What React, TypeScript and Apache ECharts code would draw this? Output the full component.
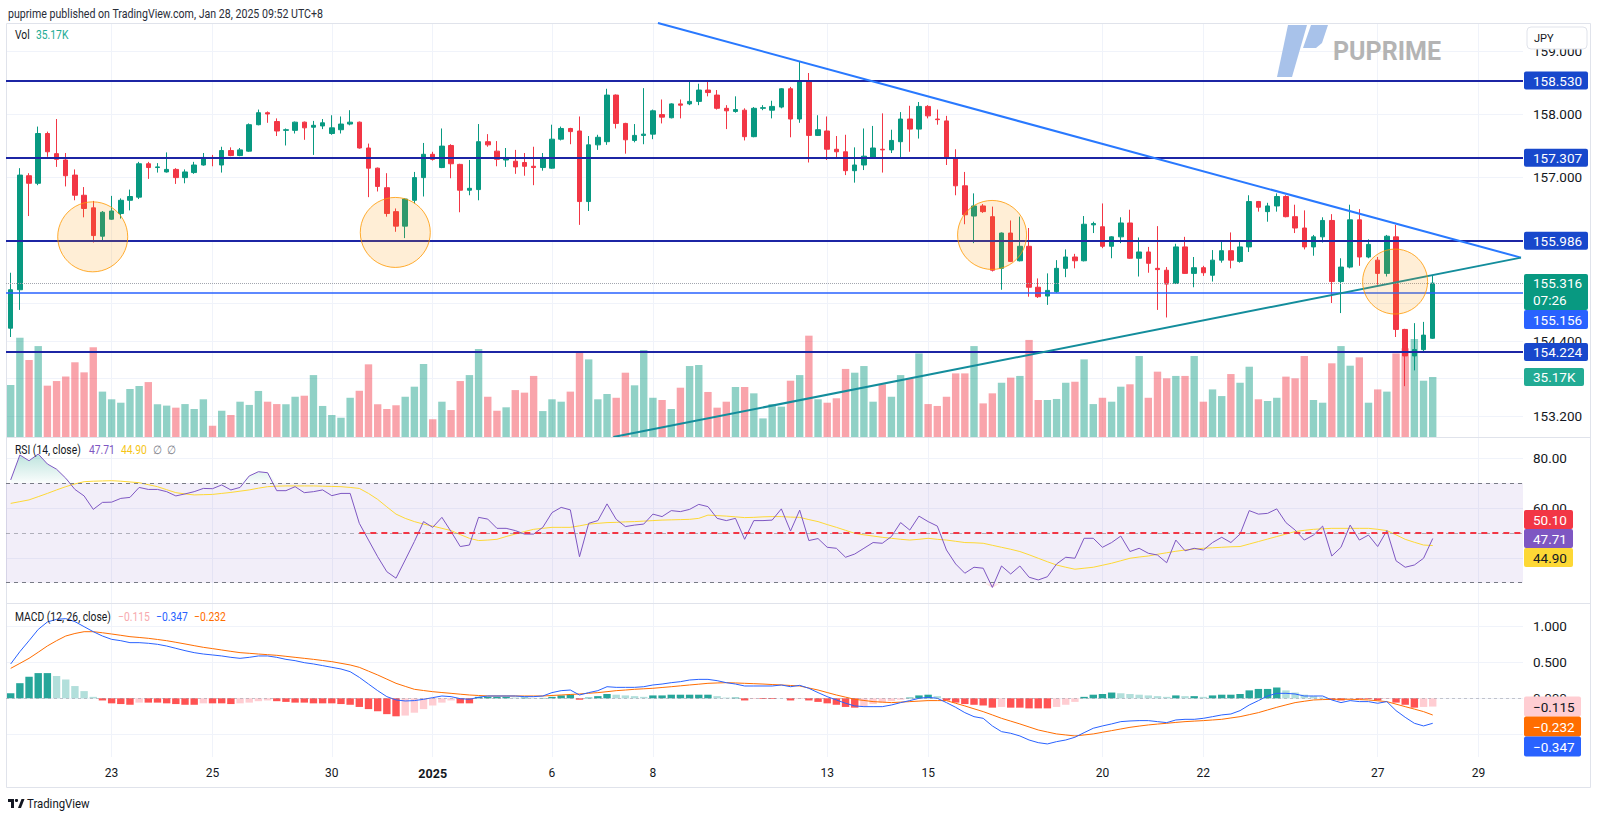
import React, { useEffect, useRef } from 'react';
import * as echarts from 'echarts';

// ---------- data (USDJPY 4h) ----------
const opens = [
  154.60,155.21,157.02,156.90,157.69,157.37,157.27,157.03,156.71,156.51,
  156.06,156.33,156.42,156.63,156.68,157.21,157.15,157.08,157.12,156.99,
  157.07,157.19,157.31,157.19,157.42,157.34,157.41,157.83,158.02,157.88,
  157.74,157.74,157.87,157.79,157.81,157.69,157.75,157.84,157.87,157.46,
  157.14,156.83,156.45,156.22,156.63,156.99,157.36,157.15,157.50,157.20,
  156.79,156.80,157.56,157.41,157.27,157.25,157.23,157.17,157.15,157.14,
  157.60,157.77,157.73,156.61,157.51,157.56,158.30,157.85,157.58,157.66,
  157.68,157.99,157.94,158.16,158.16,158.20,158.38,158.30,158.09,158.04,
  158.06,157.64,158.09,158.06,158.11,158.40,157.92,158.52,157.66,157.73,
  157.44,157.40,157.10,157.19,157.31,157.44,157.43,157.56,157.92,157.76,
  158.12,157.92,157.89,157.30,156.86,156.38,156.54,156.37,155.55,156.11,
  155.67,155.90,155.25,155.11,155.18,155.55,155.73,155.67,156.24,156.21,
  155.90,156.05,156.27,155.71,155.81,155.55,155.52,155.31,155.89,155.47,
  155.56,155.44,155.68,155.83,155.66,155.89,156.61,156.45,156.54,156.69,
  156.37,156.19,155.89,156.05,156.31,155.34,155.57,156.32,155.73,155.68,
  155.47,156.05,154.58,154.16,154.26,154.44,
];
const highs = [
  155.48,157.14,157.06,157.80,157.72,157.92,157.38,157.12,156.84,156.62,
  156.46,156.70,156.66,156.80,157.24,157.24,157.22,157.39,157.14,157.12,
  157.24,157.38,157.35,157.48,157.47,157.46,157.85,158.07,158.04,157.93,
  157.77,157.88,157.88,157.89,157.92,157.98,157.96,158.06,157.88,157.53,
  157.15,157.06,156.50,156.66,157.08,157.54,157.40,157.77,157.52,157.21,
  157.27,157.84,157.68,157.57,157.46,157.43,157.38,157.48,157.38,157.83,
  157.80,157.78,157.96,157.65,157.67,158.40,158.31,157.86,157.84,158.41,
  158.07,158.23,158.17,158.23,158.51,158.48,158.51,158.38,158.14,158.28,
  158.09,158.11,158.14,158.21,158.41,158.43,158.83,158.65,157.98,157.96,
  157.65,157.67,157.47,157.77,157.81,158.01,157.75,158.03,158.13,158.19,
  158.14,158.07,157.97,157.44,157.08,156.74,156.57,156.53,156.12,156.31,
  156.37,156.19,155.39,155.47,155.68,155.85,155.78,156.38,156.29,156.58,
  156.06,156.36,156.48,156.04,155.89,156.22,155.57,155.94,156.05,155.73,
  155.59,155.84,155.97,156.12,155.97,156.71,156.62,156.59,156.74,156.71,
  156.56,156.47,156.08,156.36,156.41,155.71,156.56,156.49,156.01,155.73,
  156.08,156.24,154.59,154.68,154.70,155.44,
];
const lows = [
  154.46,154.89,156.38,156.87,157.32,157.16,156.85,156.63,156.36,155.96,
  155.98,156.32,156.34,156.47,156.65,156.97,157.07,157.07,156.89,156.90,
  157.05,157.18,157.17,157.07,157.33,157.33,157.40,157.82,157.86,157.65,
  157.50,157.69,157.59,157.35,157.76,157.67,157.69,157.82,157.45,156.68,
  156.77,156.37,156.13,156.03,156.58,156.69,157.26,157.14,156.98,156.44,
  156.71,156.63,157.48,157.17,157.16,157.05,157.02,156.87,157.10,157.13,
  157.58,157.52,156.24,156.46,157.43,157.51,157.77,157.37,157.55,157.52,
  157.60,157.85,157.93,157.93,158.14,158.14,158.28,158.07,157.76,158.02,
  157.58,157.63,158.06,157.93,158.09,157.63,157.86,157.23,157.65,157.27,
  157.30,157.03,156.91,157.11,157.31,157.07,157.38,157.31,157.40,157.61,
  157.93,157.83,157.19,156.71,156.25,155.95,156.43,155.50,155.21,155.65,
  155.66,155.10,155.08,154.97,155.16,155.41,155.55,155.66,156.11,155.87,
  155.71,155.95,155.70,155.42,155.48,154.89,154.77,155.30,155.46,155.25,
  155.43,155.34,155.64,155.55,155.64,155.81,156.45,156.29,156.45,156.36,
  156.11,155.85,155.75,155.96,155.00,154.84,155.55,155.59,155.71,155.29,
  155.42,154.46,153.68,153.93,154.21,154.43,
];
const closes = [
  155.21,157.03,156.90,157.69,157.40,157.28,157.02,156.71,156.50,156.07,
  156.44,156.46,156.63,156.69,157.21,157.15,157.16,157.12,156.99,157.08,
  157.19,157.31,157.30,157.42,157.34,157.43,157.83,158.02,158.00,157.73,
  157.75,157.87,157.78,157.82,157.86,157.78,157.84,157.87,157.46,157.14,
  156.85,156.42,156.22,156.65,156.99,157.36,157.28,157.49,157.21,156.79,
  156.82,157.56,157.51,157.28,157.31,157.16,157.17,157.15,157.31,157.60,
  157.77,157.72,156.61,157.51,157.63,158.30,157.85,157.59,157.66,157.68,
  158.05,157.95,158.16,158.14,158.20,158.38,158.34,158.09,158.05,158.07,
  157.64,158.09,158.10,158.12,158.40,157.92,158.52,157.66,157.75,157.44,
  157.40,157.10,157.19,157.33,157.46,157.43,157.58,157.92,157.76,158.12,
  157.97,157.91,157.31,156.86,156.40,156.54,156.45,155.52,156.11,155.66,
  155.90,155.25,155.10,155.20,155.55,155.73,155.67,156.25,156.26,155.90,
  156.05,156.27,155.71,155.81,155.63,155.53,155.30,155.89,155.47,155.56,
  155.48,155.68,155.83,155.68,155.89,156.61,156.52,156.54,156.69,156.37,
  156.19,155.89,156.05,156.31,155.34,155.57,156.32,155.73,155.93,155.47,
  156.06,154.58,154.16,154.26,154.49,155.316,
];
// volume in thousands
const volumes = [
  30.5,58.2,45.1,53.3,30.1,32.8,35.4,43.8,37.9,52.6,
  26.6,22.1,20.1,28.1,29.9,32.2,19.2,18.4,17.2,19.3,
  16.4,22.1,6.6,15.4,12.9,20.7,18.8,27.0,20.7,19.3,
  19.2,23.6,24.2,36.3,18.2,12.9,11.3,23.0,27.1,42.6,
  19.2,16.4,18.6,23.6,29.5,42.8,10.4,20.7,15.8,32.8,
  36.3,51.6,23.6,15.4,17.4,27.5,26.0,35.8,15.2,22.1,
  20.7,26.6,50.4,45.5,22.1,25.2,23.0,37.7,30.3,51.0,
  23.0,21.7,16.4,28.9,41.6,42.2,26.4,17.2,20.7,29.3,
  29.3,25.6,10.9,19.3,17.8,33.0,36.3,59.4,22.1,20.1,
  22.7,39.9,37.7,41.6,20.7,30.9,23.6,36.3,34.4,49.0,
  19.3,18.2,23.6,37.3,37.3,53.3,19.7,25.6,31.8,34.8,
  35.8,56.9,21.7,21.7,22.3,31.8,32.4,45.5,19.3,23.0,
  20.7,29.5,30.9,47.5,23.0,38.3,34.4,35.8,35.8,47.5,
  20.7,27.9,24.0,36.9,31.8,41.2,22.1,21.1,23.0,35.4,
  34.4,47.5,21.7,20.1,43.2,53.3,41.8,46.7,20.1,27.9,
  26.6,49.0,52.0,57.4,33.0,35.17,
];
const rsi = [
  71.2,81.2,78.9,81.6,77.6,75.5,71.9,67.4,64.8,59.4,
  62.2,62.3,63.8,64.2,68.2,67.4,67.4,66.5,64.8,65.6,
  66.5,67.8,67.7,69.2,67.2,68.2,72.8,74.5,74.1,66.9,
  66.9,68.5,66.1,66.5,67.2,64.9,65.8,65.8,53.8,47.1,
  40.4,34.4,31.8,39.1,46.5,54.5,52.2,56.2,50.5,44.5,
  45.1,56.2,55.5,51.8,51.8,50.9,49.5,49.5,52.2,58.1,
  60.2,59.2,40.4,53.8,54.9,61.6,55.4,52.5,53.1,53.5,
  57.5,56.5,58.9,58.5,59.4,61.4,60.5,55.8,54.9,55.8,
  47.4,54.9,54.9,55.1,59.6,50.7,59.1,46.9,47.7,44.2,
  43.8,40.2,41.5,43.8,46.1,45.8,48.5,54.1,51.1,56.7,
  54.5,52.7,43.1,37.5,33.8,36.2,35.8,28.1,36.7,33.5,
  36.7,32.2,31.1,32.4,37.5,40.2,39.8,47.8,47.8,44.2,
  46.1,48.7,42.5,43.8,41.8,41.1,38.0,47.1,42.8,43.8,
  43.1,46.1,48.2,46.1,49.5,58.9,57.5,57.8,59.6,54.1,
  51.1,47.1,49.1,52.7,40.7,44.2,53.1,47.1,49.1,44.5,
  50.9,38.8,36.2,37.1,39.8,47.71,
];
const rsiMA = [
  61.8,62.5,63.2,64.5,65.8,67.2,68.5,69.6,70.5,70.7,
  70.8,70.9,70.7,70.4,70.1,69.3,68.5,67.3,66.1,65.6,
  65.2,65.3,65.4,65.8,66.2,66.7,67.2,67.9,68.5,68.7,
  68.8,68.8,68.8,68.8,68.7,68.6,68.5,68.2,67.8,65.8,
  63.4,60.4,57.5,55.8,54.5,53.5,52.7,51.8,50.9,49.3,
  47.8,46.9,47.1,47.4,48.5,49.5,50.5,51.4,51.8,52.2,
  52.2,52.2,52.8,53.5,53.8,54.1,54.2,54.4,54.5,54.7,
  54.9,55.1,55.2,55.3,55.4,55.8,57.1,56.9,56.7,56.4,
  56.1,56.2,56.4,56.5,56.5,56.3,56.2,55.3,54.5,53.3,
  52.2,51.0,49.8,49.2,48.7,48.2,47.8,47.4,47.1,47.4,
  47.8,47.4,47.1,46.6,46.1,46.0,45.8,45.0,44.2,43.4,
  42.5,41.2,39.8,38.4,37.1,36.2,35.4,35.8,36.2,37.0,
  37.8,38.8,39.8,40.3,40.7,41.4,42.0,42.6,43.1,43.5,
  43.8,44.0,44.2,44.4,44.5,45.5,46.5,47.5,48.5,49.5,
  50.5,51.0,51.4,51.6,51.8,51.8,51.8,51.8,51.8,51.4,
  50.9,49.2,47.4,46.2,45.1,44.90,
];
const macd = [
  0.477,0.648,0.800,0.957,1.060,1.097,1.106,1.065,0.995,0.925,
  0.865,0.819,0.800,0.773,0.773,0.764,0.750,0.726,0.694,0.662,
  0.634,0.615,0.602,0.588,0.569,0.555,0.569,0.588,0.588,0.569,
  0.541,0.523,0.495,0.477,0.454,0.430,0.407,0.370,0.291,0.198,
  0.106,0.023,-0.023,-0.037,-0.032,-0.014,0.009,0.032,0.023,-0.005,
  -0.014,0.014,0.032,0.032,0.032,0.032,0.023,0.023,0.032,0.079,
  0.106,0.115,0.046,0.079,0.106,0.161,0.152,0.152,0.152,0.161,
  0.185,0.198,0.217,0.231,0.254,0.263,0.263,0.245,0.217,0.198,
  0.171,0.171,0.171,0.171,0.185,0.161,0.180,0.139,0.079,0.023,
  -0.023,-0.069,-0.106,-0.116,-0.116,-0.116,-0.093,-0.060,-0.032,0.000,
  0.014,0.000,-0.060,-0.125,-0.199,-0.255,-0.278,-0.384,-0.463,-0.486,
  -0.523,-0.579,-0.616,-0.634,-0.602,-0.579,-0.541,-0.477,-0.416,-0.384,
  -0.356,-0.324,-0.315,-0.310,-0.310,-0.324,-0.338,-0.301,-0.292,-0.292,
  -0.278,-0.255,-0.231,-0.218,-0.171,-0.093,-0.032,0.032,0.069,0.069,
  0.060,0.032,0.032,0.032,-0.023,-0.060,-0.032,-0.046,-0.046,-0.069,
  -0.046,-0.171,-0.264,-0.347,-0.384,-0.347,
];
const signal = [
  0.416,0.485,0.555,0.640,0.727,0.800,0.865,0.900,0.925,0.925,
  0.910,0.893,0.875,0.856,0.845,0.833,0.817,0.800,0.778,0.755,
  0.731,0.708,0.690,0.671,0.652,0.634,0.625,0.615,0.606,0.597,
  0.583,0.569,0.555,0.541,0.525,0.509,0.486,0.463,0.430,0.377,
  0.324,0.266,0.208,0.166,0.125,0.108,0.092,0.080,0.069,0.057,
  0.046,0.039,0.032,0.032,0.032,0.032,0.032,0.032,0.032,0.039,
  0.046,0.053,0.060,0.070,0.079,0.092,0.106,0.115,0.125,0.132,
  0.139,0.150,0.161,0.173,0.185,0.196,0.208,0.213,0.217,0.213,
  0.208,0.203,0.198,0.191,0.185,0.178,0.171,0.143,0.115,0.080,
  0.046,0.016,-0.014,-0.030,-0.046,-0.053,-0.060,-0.053,-0.046,-0.039,
  -0.032,-0.032,-0.032,-0.069,-0.106,-0.146,-0.185,-0.231,-0.278,-0.317,
  -0.356,-0.398,-0.440,-0.468,-0.495,-0.509,-0.523,-0.509,-0.495,-0.472,
  -0.449,-0.426,-0.403,-0.386,-0.370,-0.358,-0.347,-0.335,-0.324,-0.317,
  -0.310,-0.301,-0.292,-0.273,-0.255,-0.227,-0.199,-0.162,-0.125,-0.092,
  -0.060,-0.041,-0.023,-0.018,-0.014,-0.014,-0.014,-0.018,-0.023,-0.035,
  -0.046,-0.081,-0.116,-0.150,-0.185,-0.232,
];
const histogram = [
  0.07,0.21,0.30,0.35,0.35,0.31,0.26,0.17,0.10,0.02,
  -0.03,-0.07,-0.08,-0.09,-0.06,-0.06,-0.06,-0.07,-0.08,-0.09,
  -0.09,-0.07,-0.07,-0.07,-0.08,-0.07,-0.06,-0.04,-0.03,-0.04,
  -0.05,-0.06,-0.06,-0.07,-0.07,-0.07,-0.08,-0.09,-0.12,-0.15,
  -0.18,-0.22,-0.25,-0.24,-0.20,-0.15,-0.10,-0.06,-0.03,-0.07,
  -0.07,0.02,0.02,0.02,0.02,0.01,0.01,0.005,0.005,0.02,
  0.04,0.05,-0.02,0.01,0.03,0.06,0.05,0.04,0.03,0.02,
  0.04,0.04,0.05,0.05,0.05,0.05,0.05,0.03,0.01,0.01,
  -0.03,-0.01,-0.01,-0.01,0.00,-0.03,-0.01,-0.03,-0.05,-0.07,
  -0.09,-0.12,-0.13,-0.11,-0.08,-0.06,-0.04,-0.02,0.01,0.04,
  0.05,0.03,-0.03,-0.06,-0.08,-0.09,-0.10,-0.13,-0.12,-0.13,
  -0.13,-0.14,-0.14,-0.14,-0.12,-0.09,-0.05,0.02,0.05,0.06,
  0.08,0.07,0.06,0.05,0.04,0.03,0.02,0.04,0.03,0.03,
  0.02,0.04,0.05,0.05,0.06,0.11,0.13,0.13,0.15,0.11,
  0.08,0.05,0.03,0.01,-0.02,-0.03,-0.01,-0.01,-0.01,-0.03,
  -0.01,-0.06,-0.09,-0.13,-0.12,-0.115,
];

const timeLabelIdx = [11, 22, 35, 46, 59, 70, 89, 100, 119, 130, 149, 160];
const timeLabelText = ['23', '25', '30', '2025', '6', '8', '13', '15', '20', '22', '27', '29'];

// grid lines and the tick labels that the reference leaves visible
const priceGrid = [153.2, 153.8, 154.4, 155, 156, 157, 158, 159];
const priceLabels = [153.2, 154.4, 157, 158, 159];
const rsiGrid = [40, 60, 80];
const rsiLabels = [60, 80];
const macdGrid = [-0.5, 0, 0.5, 1];
const macdLabels = [0, 0.5, 1];

const levelLines = [158.53, 157.307, 155.986, 154.224];
const supportLine = 155.156;
const lastPrice = 155.316;
const countdown = '07:26';
const lastVolume = 35.17;
const rsiLevel = 50.10;
const rsiLevelStart = 38;
const downTrend = [[70.55, 159.444], [164.62, 155.72]];
const upTrend = [[65.69, 152.873], [164.62, 155.72]];
const circles = [[8.94, 156.05, 70], [41.92, 156.12, 70], [106.97, 156.08, 69], [150.9, 155.34, 65]];

// ---------- layout ----------
const X_MIN = -0.512;
const X_MAX = 164.84;
const P_MIN = 152.873, P_MAX = 159.444;
const VOL_MAX = 242.7;
const R_MIN = 21.86, R_MAX = 88.42;
const M_MIN = -0.8153, M_MAX = 1.3236;

const UP = '#089981';
const DOWN = '#f23645';
const GRID = '#f0f3fa';
const TXT = '#131722';
const FONT = 'Roboto';

const minus = (s: string) => s.replace('-', '\u2212');

function fmtTime(v: number) {
  const k = timeLabelIdx.indexOf(Math.round(v));
  if (k < 0) return '';
  const t = timeLabelText[k];
  return t === '2025' ? '{b|' + t + '}' : t;
}

function makeXAxis(gridIndex: number, labels: boolean) {
  return {
    type: 'value', gridIndex, min: X_MIN, max: X_MAX,
    axisLine: { show: false },
    axisTick: { show: false, customValues: timeLabelIdx },
    splitLine: { show: true, customValues: timeLabelIdx, lineStyle: { color: GRID, width: 1 } },
    axisLabel: labels
      ? {
          show: true, customValues: timeLabelIdx, formatter: fmtTime, margin: 16,
          verticalAlign: 'middle', color: TXT, fontSize: 12, fontFamily: FONT,
          rich: { b: { fontWeight: 'bold', fontSize: 12.5, color: TXT, fontFamily: FONT } },
        }
      : { show: false, customValues: timeLabelIdx },
  };
}

function makeYAxis(gridIndex: number, min: number, max: number, grid: number[], labels: number[], digits: number) {
  return {
    type: 'value', gridIndex, position: 'right', min, max,
    axisLine: { show: false },
    axisTick: { show: false, customValues: grid },
    splitLine: { show: true, customValues: grid, lineStyle: { color: GRID, width: 1 } },
    axisLabel: {
      show: true, customValues: labels, formatter: (v: number) => minus(v.toFixed(digits)),
      align: 'left', margin: 10, color: TXT, fontSize: 13.5, fontFamily: FONT,
    },
  };
}

function buildOption(): any {
  const candleData = opens.map((o, i) => [i, o, closes[i], lows[i], highs[i]]);
  const volData = volumes.map((v, i) => ({
    value: [i, v],
    itemStyle: { color: closes[i] >= opens[i] ? 'rgba(8,153,129,0.45)' : 'rgba(242,54,69,0.45)' },
  }));
  const histData = histogram.map((v, i) => {
    const prev = i === 0 ? 0 : histogram[i - 1];
    const color = v >= 0 ? (v >= prev ? '#26a69a' : '#b2dfdb') : (v <= prev ? '#ff5252' : '#ffcdd2');
    return { value: [i, v], itemStyle: { color } };
  });
  const lvl = (v: number, color: string, width: number, type: any = 'solid') => ({ yAxis: v, lineStyle: { color, width, type } });

  return {
    animation: false,
    backgroundColor: '#ffffff',
    textStyle: { fontFamily: FONT },
    grid: [
      { left: 6, top: 23, width: 1517, height: 414, outerBoundsMode: 'none', containLabel: false },
      { left: 6, top: 437, width: 1517, height: 166, outerBoundsMode: 'none', containLabel: false },
      { left: 6, top: 603, width: 1517, height: 154, outerBoundsMode: 'none', containLabel: false },
    ],
    xAxis: [makeXAxis(0, false), makeXAxis(1, false), makeXAxis(2, true)],
    yAxis: [
      makeYAxis(0, P_MIN, P_MAX, priceGrid, priceLabels, 3),
      { type: 'value', gridIndex: 0, min: 0, max: VOL_MAX, show: false, splitLine: { show: false } },
      makeYAxis(1, R_MIN, R_MAX, rsiGrid, rsiLabels, 2),
      makeYAxis(2, M_MIN, M_MAX, macdGrid, macdLabels, 3),
    ],
    series: [
      {
        name: 'Volume', type: 'bar', xAxisIndex: 0, yAxisIndex: 1, data: volData,
        barWidth: 7.4, z: 1, silent: true,
      },
      {
        name: 'USDJPY', type: 'candlestick', xAxisIndex: 0, yAxisIndex: 0, data: candleData,
        encode: { x: 0, y: [1, 2, 3, 4] }, barWidth: 5, z: 3, silent: true,
        itemStyle: { color: UP, color0: DOWN, borderColor: UP, borderColor0: DOWN, borderWidth: 1 },
      },
      {
        name: 'Marks', type: 'scatter', xAxisIndex: 0, yAxisIndex: 0, z: 6, silent: true,
        data: circles.map(c => ({ value: [c[0], c[1]], symbolSize: c[2] })),
        symbol: 'circle',
        itemStyle: { color: 'rgba(255,152,0,0.2)', borderColor: '#ff9800', borderWidth: 1 },
        markLine: {
          silent: true, symbol: ['none', 'none'], label: { show: false }, emphasis: { disabled: true },
          data: [
            ...levelLines.map(v => lvl(v, '#1c25a4', 2)),
            lvl(supportLine, '#2962ff', 1.5),
            lvl(lastPrice, '#a3a6af', 1, 'dotted'),
            [{ coord: downTrend[0], lineStyle: { color: '#2979ff', width: 2, type: 'solid' } }, { coord: downTrend[1] }],
            [{ coord: upTrend[0], lineStyle: { color: '#138d9c', width: 2, type: 'solid' } }, { coord: upTrend[1] }],
          ],
        },
      },
      {
        name: 'RSI OB', type: 'line', xAxisIndex: 1, yAxisIndex: 2, silent: true, z: 1,
        data: rsi.map((v, i) => [i, Math.max(v, 70)]), symbol: 'none',
        lineStyle: { opacity: 0, width: 0 },
        areaStyle: {
          origin: 70,
          color: new echarts.graphic.LinearGradient(0, 0, 0, 1, [
            { offset: 0, color: 'rgba(8,153,129,0.38)' }, { offset: 1, color: 'rgba(8,153,129,0.03)' },
          ]),
        },
      },
      {
        name: 'RSI OS', type: 'line', xAxisIndex: 1, yAxisIndex: 2, silent: true, z: 1,
        data: rsi.map((v, i) => [i, Math.min(v, 30)]), symbol: 'none',
        lineStyle: { opacity: 0, width: 0 },
        areaStyle: {
          origin: 30,
          color: new echarts.graphic.LinearGradient(0, 0, 0, 1, [
            { offset: 0, color: 'rgba(242,54,69,0.03)' }, { offset: 1, color: 'rgba(242,54,69,0.38)' },
          ]),
        },
      },
      {
        name: 'RSI MA', type: 'line', xAxisIndex: 1, yAxisIndex: 2, silent: true, z: 3,
        data: rsiMA.map((v, i) => [i, v]), symbol: 'none', lineStyle: { color: '#fdd835', width: 1 },
      },
      {
        name: 'RSI', type: 'line', xAxisIndex: 1, yAxisIndex: 2, silent: true, z: 4,
        data: rsi.map((v, i) => [i, v]), symbol: 'none', lineStyle: { color: '#7e57c2', width: 1 },
        markArea: {
          silent: true, itemStyle: { color: 'rgba(126,87,194,0.1)' },
          data: [[{ yAxis: 30 }, { yAxis: 70 }]],
        },
        markLine: {
          silent: true, symbol: ['none', 'none'], label: { show: false }, emphasis: { disabled: true },
          data: [
            lvl(70, '#787b86', 1, [4, 4]),
            lvl(50, 'rgba(120,123,134,0.55)', 1, [4, 4]),
            lvl(30, '#787b86', 1, [4, 4]),
            [{ coord: [rsiLevelStart, rsiLevel], lineStyle: { color: DOWN, width: 2, type: [6, 5] } }, { coord: [X_MAX, rsiLevel] }],
          ],
        },
      },
      {
        name: 'Histogram', type: 'bar', xAxisIndex: 2, yAxisIndex: 3, data: histData,
        barWidth: 7.4, z: 1, silent: true,
      },
      {
        name: 'MACD', type: 'line', xAxisIndex: 2, yAxisIndex: 3, silent: true, z: 4,
        data: macd.map((v, i) => [i, v]), symbol: 'none', lineStyle: { color: '#2962ff', width: 1 },
        markLine: {
          silent: true, symbol: ['none', 'none'], label: { show: false }, emphasis: { disabled: true },
          data: [lvl(0, 'rgba(120,123,134,0.4)', 1, [3, 3])],
        },
      },
      {
        name: 'Signal', type: 'line', xAxisIndex: 2, yAxisIndex: 3, silent: true, z: 3,
        data: signal.map((v, i) => [i, v]), symbol: 'none', lineStyle: { color: '#ff6d00', width: 1 },
      },
    ],
  };
}

function buildGraphics(chart: any): any[] {
  const py = (axis: number, v: number): number => chart.convertToPixel({ yAxisIndex: axis }, v);
  const els: any[] = [];
  const txt = (x: number, y: number, text: string, color: string, font: string, sx = 1, z = 40) => ({
    type: 'text', x, y, scaleX: sx, z, silent: true,
    style: {
      text, x: 0, y: 0, fill: color, font,
      align: 'left', verticalAlign: 'middle', textAlign: 'left', textVerticalAlign: 'middle',
    },
  });
  const box = (yTop: number, h: number, w: number, fill: string, lines: [string, number][], color = '#ffffff') => {
    els.push({ type: 'rect', z: 50, silent: true, shape: { x: 1524, y: yTop, width: w, height: h, r: 2 }, style: { fill } });
    lines.forEach(([t, yy]) => els.push(txt(1533, yy, t, color, '13.5px Roboto', 1, 51)));
  };

  // frame & pane separators
  els.push({ type: 'rect', z: 0, silent: true, shape: { x: 6.5, y: 23.5, width: 1584, height: 764 }, style: { fill: 'none', stroke: '#e0e3eb', lineWidth: 1 } });
  [437.5, 603.5].forEach(y => els.push({ type: 'line', z: 7, silent: true, shape: { x1: 6, y1: y, x2: 1591, y2: y }, style: { stroke: '#e0e3eb', lineWidth: 1 } }));

  // header
  els.push(txt(8, 13.5, 'puprime published on TradingView.com, Jan 28, 2025 09:52 UTC+8', '#2a2e39', '12px Roboto', 0.885));

  // legends
  const LF = '12px Roboto';
  const LS = 0.86;
  els.push(txt(15, 35, 'Vol', TXT, LF, LS));
  els.push(txt(36, 35, '35.17K', '#22ab94', LF, LS));
  els.push(txt(15, 450, 'RSI (14, close)', TXT, LF, LS));
  els.push(txt(89, 450, '47.71', '#7e57c2', LF, LS));
  els.push(txt(121, 450, '44.90', '#f5c518', LF, LS));
  els.push(txt(153, 450, '\u2205', '#787b86', LF, LS));
  els.push(txt(167, 450, '\u2205', '#787b86', LF, LS));
  els.push(txt(15, 617, 'MACD (12, 26, close)', TXT, LF, LS));
  els.push(txt(118, 617, '\u22120.115', '#f7a9ae', LF, LS));
  els.push(txt(156, 617, '\u22120.347', '#2962ff', LF, LS));
  els.push(txt(194, 617, '\u22120.232', '#ff6d00', LF, LS));

  // PU Prime watermark
  els.push({ type: 'polygon', z: 8, silent: true, shape: { points: [[1288, 25], [1307, 25], [1292, 77], [1277, 77]] }, style: { fill: '#a8c2ea' } });
  els.push({ type: 'polygon', z: 8, silent: true, shape: { points: [[1311, 25], [1328, 25], [1322, 43], [1316, 48], [1303, 48]] }, style: { fill: '#a8c2ea' } });
  els.push(txt(1333, 51, 'PUPRIME', '#b4b4b4', 'bold 25px Roboto', 1, 8));

  // JPY button
  els.push({ type: 'rect', z: 45, silent: true, shape: { x: 1527, y: 27, width: 60, height: 22, r: 4 }, style: { fill: '#ffffff', stroke: '#e0e3eb', lineWidth: 1 } });
  els.push(txt(1534, 38.5, 'JPY', TXT, '11px Roboto', 1, 46));

  // main price labels
  levelLines.forEach(v => {
    const y = py(0, v);
    box(y - 9, 18, 64, '#1848cc', [[v.toFixed(3), y]]);
  });
  const yL = py(0, lastPrice);
  box(yL - 9, 36, 64, UP, [[lastPrice.toFixed(3), yL], [countdown, yL + 17]]);
  box(yL + 27, 19, 64, '#2962ff', [[supportLine.toFixed(3), yL + 36.5]]);
  const yV = py(1, lastVolume);
  box(yV - 9, 18, 60, '#22ab94', [[lastVolume.toFixed(2) + 'K', yV]]);

  // RSI labels
  const yR = py(2, rsi[rsi.length - 1]);
  box(yR - 28.5, 19, 49, DOWN, [[rsiLevel.toFixed(2), yR - 19]]);
  box(yR - 9.5, 19, 49, '#7e57c2', [[rsi[rsi.length - 1].toFixed(2), yR]]);
  box(yR + 9.5, 19, 49, '#fdd835', [[rsiMA[rsiMA.length - 1].toFixed(2), yR + 19]], TXT);

  // MACD labels
  const yM = py(3, histogram[histogram.length - 1]);
  box(yM - 10, 20, 57, '#ffcdd2', [[minus(histogram[histogram.length - 1].toFixed(3)), yM]], TXT);
  box(yM + 10, 20, 57, '#ff6d00', [[minus(signal[signal.length - 1].toFixed(3)), yM + 20]]);
  box(yM + 30, 20, 57, '#2962ff', [[minus(macd[macd.length - 1].toFixed(3)), yM + 40]]);

  // TradingView footer
  els.push({ type: 'rect', z: 40, silent: true, shape: { x: 8, y: 799, width: 6, height: 3 }, style: { fill: TXT } });
  els.push({ type: 'rect', z: 40, silent: true, shape: { x: 11, y: 799, width: 3, height: 9 }, style: { fill: TXT } });
  els.push({ type: 'circle', z: 40, silent: true, shape: { cx: 16.5, cy: 800.5, r: 1.6 }, style: { fill: TXT } });
  els.push({ type: 'polygon', z: 40, silent: true, shape: { points: [[18, 808], [21.5, 799], [24.5, 799], [21, 808]] }, style: { fill: TXT } });
  els.push(txt(27, 803.5, 'TradingView', TXT, '12px Roboto', 0.95));

  return els;
}

export default function App() {
  const ref = useRef<HTMLDivElement>(null);
  useEffect(() => {
    if (!ref.current) return;
    const chart = echarts.init(ref.current, null, { renderer: 'svg' });
    chart.setOption(buildOption());
    chart.setOption({ graphic: { elements: buildGraphics(chart) } });
    return () => chart.dispose();
  }, []);
  return (
    <div
      ref={ref}
      style={{ position: 'fixed', left: 0, top: 0, width: 1600, height: 819, background: '#ffffff' }}
    />
  );
}
